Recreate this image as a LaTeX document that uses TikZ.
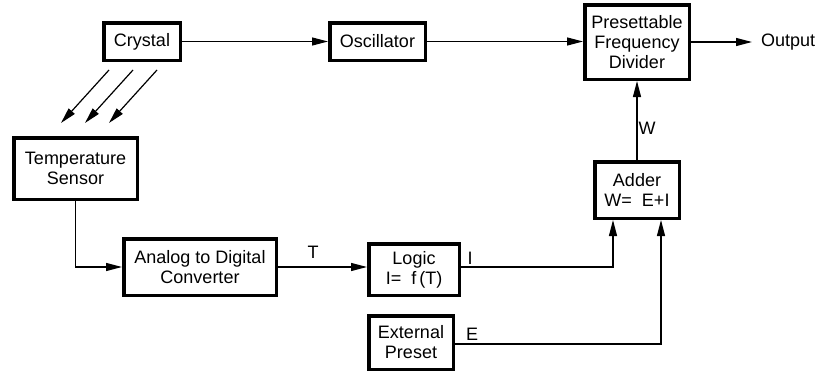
\documentclass[tikz,border=0pt]{standalone}
\usepackage{fontspec}
\setmainfont{Liberation Sans}
\usetikzlibrary{arrows.meta}
\begin{document}
\begin{tikzpicture}[x=1pt,y=-1pt,
  box/.style={draw, line width=3.5pt, inner sep=0pt, align=center, font=\fontsize{18}{20}\selectfont},
  lbl/.style={inner sep=0pt, font=\fontsize{18}{20}\selectfont},
  conn/.style={line width=1.2pt, -{Triangle[length=16pt,width=8pt]}},
  wire/.style={line width=1.2pt}]
\useasboundingbox (0,0) rectangle (823,372);
\node[box, minimum width=76.5pt, minimum height=37.5pt] (crystal) at (142,41.5) {Crystal};
\node[box, minimum width=95.5pt, minimum height=37.5pt] (osc) at (377.5,41.5) {Oscillator};
\node[box, minimum width=104.5pt, minimum height=74.5pt] (div) at (637,42) {Presettable\\Frequency\\Divider};
\node[box, minimum width=84.5pt, minimum height=56.5pt] (adder) at (637,190) {Adder\\W=~~E+I};
\node[box, minimum width=123.5pt, minimum height=61.5pt] (sensor) at (75.5,168.5) {Temperature\\Sensor};
\node[box, minimum width=152.5pt, minimum height=56.5pt] (adc) at (200,267) {Analog to Digital\\Converter};
\node[box, minimum width=90.5pt, minimum height=51.5pt] (logic) at (414,269.5) {Logic\\I=~~f\,(T)};
\node[box, minimum width=84.5pt, minimum height=53.5pt] (ext) at (411,342.5) {External\\Preset};
\node[lbl, anchor=west] (out) at (761,42) {Output};
\node[lbl] (tl) at (313,252) {T};
\node[lbl] (il) at (470,258) {I};
\node[lbl] (el) at (472,334) {E};
\node[lbl] (wl) at (647,128) {W};
\coordinate (d1s) at (109,70); \coordinate (d1e) at (61,123);
\coordinate (d2s) at (133,70); \coordinate (d2e) at (85,123);
\coordinate (d3s) at (157,70); \coordinate (d3e) at (109,123);
\draw[conn] (crystal.east) -- (osc.west);
\draw[conn] (osc.east) -- (osc.east -| div.west);
\draw[conn] (div.east) -- ([xshift=-9pt]out.west);
\draw[conn] (adder.north) -- (div.south);
\draw[conn] (d1s) -- (d1e);
\draw[conn] (d2s) -- (d2e);
\draw[conn] (d3s) -- (d3e);
\draw[conn] (sensor.south) |- (adc.west);
\draw[conn] (adc.east) -- (adc.east -| logic.west);
\draw[conn] (adc.east -| logic.east) -| ([xshift=-24pt]adder.south);
\draw[conn] (ext.east) ++(0,1.5) -| ([xshift=24pt]adder.south);
\end{tikzpicture}
\end{document}
